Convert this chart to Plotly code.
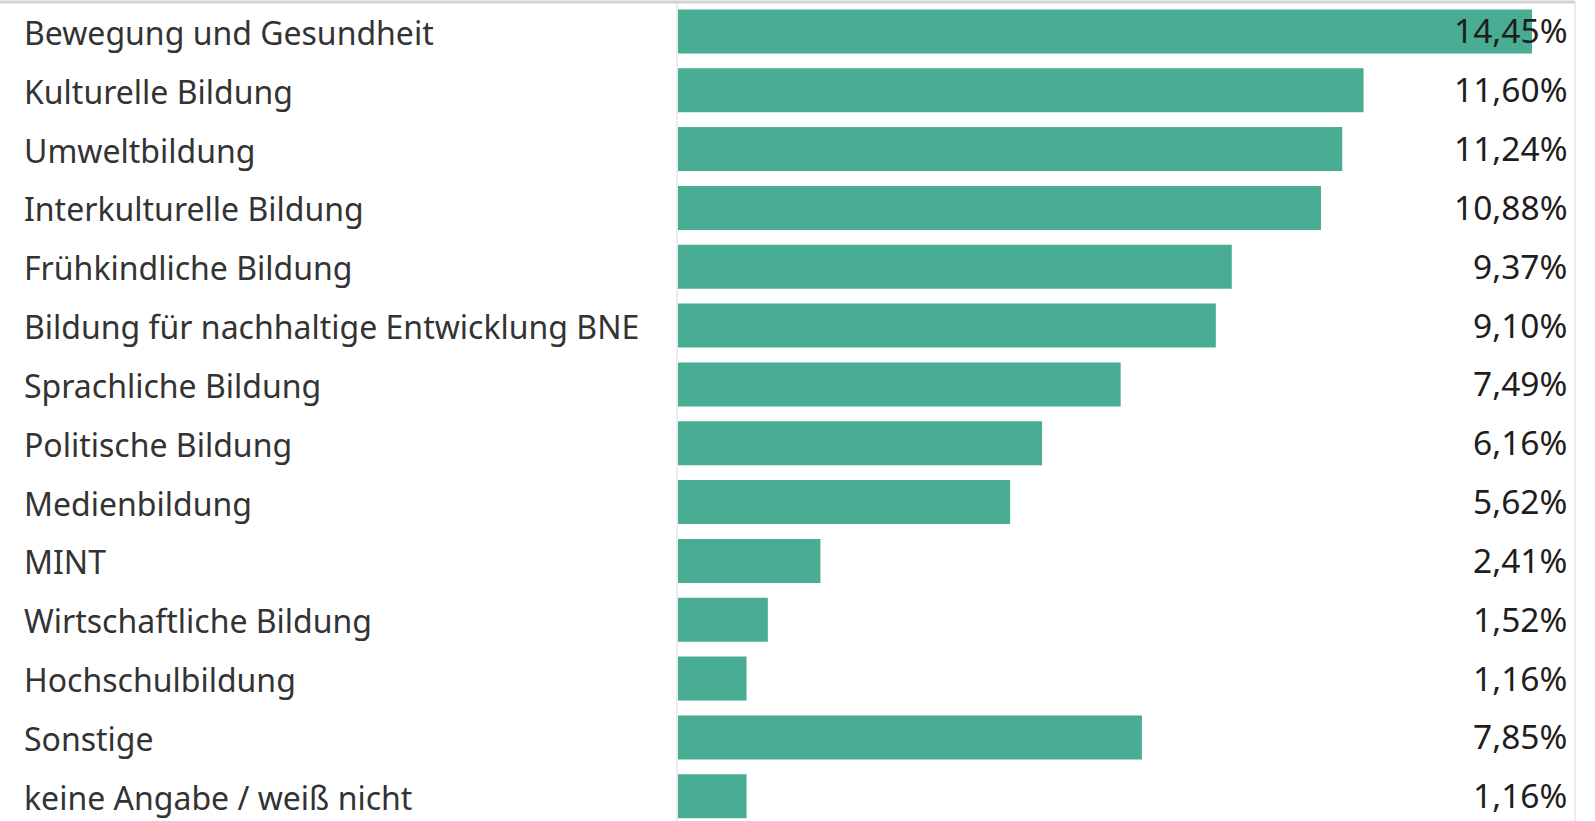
import plotly.graph_objects as go

categories = [
    "Bewegung und Gesundheit",
    "Kulturelle Bildung",
    "Umweltbildung",
    "Interkulturelle Bildung",
    "Frühkindliche Bildung",
    "Bildung für nachhaltige Entwicklung BNE",
    "Sprachliche Bildung",
    "Politische Bildung",
    "Medienbildung",
    "MINT",
    "Wirtschaftliche Bildung",
    "Hochschulbildung",
    "Sonstige",
    "keine Angabe / weiß nicht",
]
values = [14.45, 11.60, 11.24, 10.88, 9.37, 9.10, 7.49, 6.16, 5.62, 2.41, 1.52, 1.16, 7.85, 1.16]
value_labels = [f"{v:.2f}%".replace(".", ",") for v in values]

W, H = 1595, 821
FONT = "Noto Sans"
x0_px, x1_px = 678, 1575
px_per_unit = 59.1

fig = go.Figure(go.Bar(
    x=values, y=categories, orientation="h",
    marker=dict(color="#49ad93", line=dict(width=0)),
    hoverinfo="skip",
))

annotations = []
for c, lab in zip(categories, value_labels):
    annotations.append(dict(
        xref="paper", yref="y", x=22 / W, y=c, text=c, showarrow=False,
        xanchor="left", yanchor="middle", yshift=-1,
        font=dict(family=FONT, size=32, color="#333333"),
    ))
    annotations.append(dict(
        xref="paper", yref="y", x=1569 / W, y=c, text=lab, showarrow=False,
        xanchor="right", yanchor="middle", yshift=1,
        font=dict(family=FONT, size=33.5, color="#1e1e1e"),
    ))

shapes = [
    dict(type="line", xref="paper", yref="paper", x0=0, x1=x1_px / W, y0=1.0, y1=1.0,
         line=dict(color="#d3d3d3", width=3), layer="above"),
    dict(type="line", xref="paper", yref="paper", x0=(x0_px - 1) / W, x1=(x0_px - 1) / W, y0=0, y1=1,
         line=dict(color="#ececec", width=2), layer="below"),
    dict(type="line", xref="paper", yref="paper", x0=x1_px / W, x1=x1_px / W, y0=0, y1=1,
         line=dict(color="#ececec", width=2), layer="below"),
]

fig.update_layout(
    width=W, height=H,
    margin=dict(l=0, r=0, t=2, b=0),
    paper_bgcolor="white", plot_bgcolor="white",
    bargap=0.252,
    showlegend=False,
    xaxis=dict(domain=[x0_px / W, x1_px / W], range=[0, (x1_px - x0_px) / px_per_unit],
               visible=False, fixedrange=True),
    yaxis=dict(categoryorder="array", categoryarray=categories,
               range=[13.42, -0.5], showticklabels=False, showgrid=False,
               zeroline=False, ticks="", fixedrange=True),
    annotations=annotations,
    shapes=shapes,
)

fig.write_html(
    "out.html",
    config={"displayModeBar": False},
    post_script="document.body.style.margin='0';document.body.style.overflow='hidden';",
)
